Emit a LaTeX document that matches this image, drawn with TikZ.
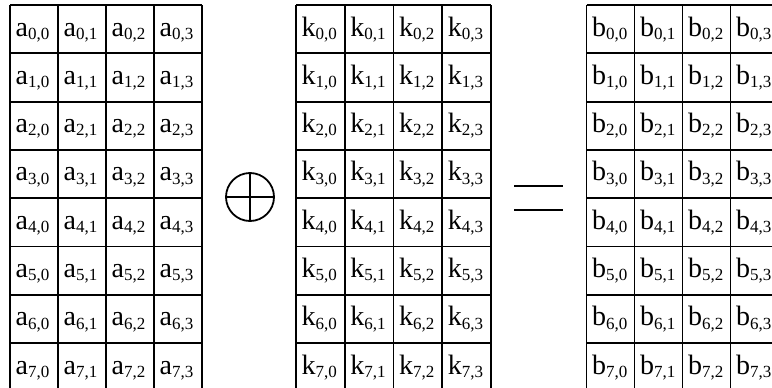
\documentclass[tikz,border=0pt]{standalone}
\usepackage{fontspec}
\setmainfont{Liberation Serif}
\usetikzlibrary{positioning}
\tikzset{
  gl/.style={line width=1.8pt,black},
  lbl/.style={anchor=base west,inner sep=0pt,font=\fontsize{28}{30}\selectfont},
  opsym/.style={draw,circle,line width=1.8pt,minimum size=48pt,inner sep=0pt}
}
\newcommand{\sbs}[1]{\raisebox{-0.12em}{\fontsize{17}{18}\selectfont #1}}

\begin{document}
\begin{tikzpicture}[x=1pt,y=-1pt]
\useasboundingbox (0,0) rectangle (772,388);
% the three tables: letter / left edge / cell width
\foreach \m/\xo/\w in {a/10/48,k/296/48.7,b/586.5/48}{
  \foreach \i in {0,...,8} \draw[gl] (\xo,5+48.3*\i) -- ++(4*\w,0);
  \foreach \j in {0,...,4} \draw[gl] (\xo+\w*\j,5) -- ++(0,8*48.3);
  \foreach \r in {0,...,7}
    \foreach \c in {0,...,3}
      \node[lbl] (\m-\r-\c) at (\xo+\w*\c+5.5,5+48.3*\r+31) {\m\sbs{\r,\c}};
}
% xor sign
\node[opsym] (xor) at (250,197) {};
\draw[gl] (xor.north) -- (xor.south);
\draw[gl] (xor.west) -- (xor.east);
% equals sign
\draw[gl] (514,186) -- (563,186);
\draw[gl] (514,210) -- (563,210);
\end{tikzpicture}
\end{document}
